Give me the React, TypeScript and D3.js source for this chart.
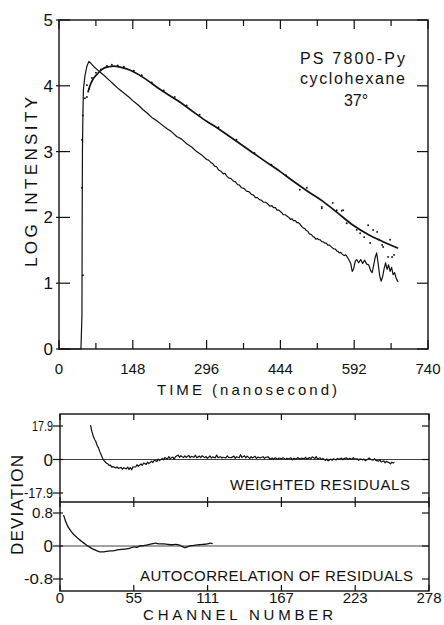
import React from "react";
import * as d3 from "d3";

// ---------- DATA ----------
const timeTicks = [0, 148, 296, 444, 592, 740];
const timeMinorTicks = [74, 222, 370, 518, 666];
const logTicks = [0, 1, 2, 3, 4, 5];
const channelTicks = [0, 55.6, 111.2, 166.8, 222.4, 278];
const channelTickLabels = ["0", "55", "111", "167", "223", "278"];
const weightedTicks = [17.9, 0, -17.9];
const weightedTickLabels = ["17.9", "0", "-17.9"];
const autoTicks = [0.8, 0, -0.8];
const autoTickLabels = ["0.8", "0", "-0.8"];

// lamp / fast decaying profile [time ns, log intensity]
const fastCurve: [number, number][] = [
  [0, 0], [44, 0], [46, 0.5], [46.5, 2.0], [47, 3.0], [48, 3.6], [49, 3.95], [52, 4.15], [56, 4.3],
  [60, 4.37], [64, 4.34], [70, 4.29], [76, 4.25], [82, 4.21], [90, 4.16], [100, 4.09], [110, 4.02],
  [120, 3.95], [130, 3.89], [140, 3.83], [150, 3.76], [160, 3.7], [168, 3.64], [176, 3.59], [186, 3.52],
  [196, 3.47], [206, 3.41], [216, 3.35], [226, 3.3], [236, 3.23], [246, 3.19], [256, 3.12], [266, 3.07],
  [276, 3.0], [286, 2.95], [296, 2.88], [300, 2.87], [304, 2.84], [308, 2.82], [312, 2.78], [316, 2.77],
  [320, 2.72], [325, 2.7], [330, 2.66], [333, 2.67], [336, 2.63], [340, 2.6], [345, 2.59], [350, 2.55],
  [354, 2.54], [358, 2.5], [362, 2.49], [366, 2.45], [371, 2.44], [376, 2.4], [381, 2.39], [386, 2.35],
  [390, 2.34], [394, 2.3], [398, 2.3], [402, 2.27], [406, 2.26], [410, 2.23], [414, 2.23], [418, 2.21],
  [423, 2.17], [427, 2.18], [430, 2.15], [434, 2.15], [437, 2.11], [441, 2.11], [444, 2.09], [447, 2.07],
  [450, 2.04], [454, 2.04], [457, 2.02], [461, 2.0], [464, 1.97], [467, 1.98], [470, 1.95], [474, 1.95],
  [477, 1.92], [480, 1.92], [483, 1.9], [487, 1.86], [490, 1.84], [493, 1.83], [496, 1.8], [499, 1.79],
  [502, 1.75], [506, 1.74], [509, 1.71], [512, 1.7], [515, 1.67], [518, 1.68], [521, 1.66], [524, 1.66],
  [527, 1.63], [530, 1.63], [533, 1.61], [536, 1.61], [539, 1.58], [542, 1.58], [545, 1.56], [548, 1.54],
  [551, 1.52], [554, 1.52], [557, 1.49], [560, 1.48], [562, 1.46], [565, 1.47], [567, 1.45], [570, 1.43],
  [572, 1.42], [575, 1.43], [577, 1.41], [581, 1.36], [585, 1.3], [588, 1.18], [591, 1.22],
  [594, 1.33], [597, 1.36], [601, 1.31], [605, 1.36], [609, 1.3], [613, 1.35], [617, 1.29], [621, 1.28],
  [625, 1.19], [628, 1.16], [631, 1.27], [634, 1.39], [637, 1.46], [640, 1.3], [643, 1.12], [646, 1.03],
  [649, 1.1], [652, 1.22], [655, 1.31], [658, 1.21], [661, 1.28], [664, 1.18], [667, 1.24], [670, 1.13],
  [673, 1.16], [676, 1.08], [680, 1.02],
];

// fitted fluorescence decay [time ns, log intensity]
const fitCurve: [number, number][] = [
  [58, 3.9], [62, 4.0], [68, 4.1], [78, 4.19], [88, 4.26], [100, 4.29], [110, 4.3], [125, 4.28],
  [142, 4.24], [160, 4.17], [176, 4.09], [200, 3.96], [220, 3.86], [243, 3.75], [270, 3.6], [296, 3.46],
  [309, 3.4], [340, 3.24], [376, 3.05], [410, 2.87], [443, 2.7], [470, 2.55], [500, 2.39], [530, 2.24],
  [560, 2.06], [590, 1.88], [620, 1.74], [650, 1.63], [680, 1.53],
];

// measured fluorescence points [time ns, log intensity]
const dataPoints: [number, number][] = [
  [48, 1.12], [46, 2.45], [46, 3.18], [48, 3.55], [52, 3.81], [56, 3.83], [56, 4.01], [60, 3.95],
  [66, 4.12], [74, 4.2], [84, 4.25], [96, 4.3], [106, 4.32], [118, 4.31], [130, 4.29], [150, 4.23],
  [166, 4.16], [186, 4.05], [210, 3.93], [232, 3.83], [256, 3.7], [282, 3.56], [320, 3.37], [356, 3.18],
  [392, 2.98], [426, 2.8], [455, 2.64], [483, 2.42], [497, 2.45], [527, 2.14], [527, 2.16], [549, 2.22],
  [557, 2.11], [567, 2.1], [570, 2.11], [577, 1.91], [597, 1.81], [604, 1.76], [620, 1.88], [624, 1.61],
  [630, 1.81], [638, 1.78], [648, 1.58], [650, 1.55], [660, 1.4], [664, 1.66], [668, 1.4], [672, 1.43],
  [612, 1.7], [642, 1.66],
];

// weighted residuals [channel, deviation]
const weightedResiduals: [number, number][] = [
  [23, 18.4], [24, 15.0], [25, 12.5], [26, 10.8], [27, 9.6], [28, 7.5], [29, 6.2], [30, 4.2], [31, 2.5],
  [32, 0.8], [33, -0.5], [34, -1.2], [35, -2.0], [36, -2.3], [37, -3.2], [38, -3.0], [39, -4.1], [40, -3.8],
  [42, -4.5], [43, -3.9], [44, -4.8], [46, -4.2], [47, -5.2], [48, -4.4], [50, -5.0], [51, -4.1], [52, -5.3],
  [53, -4.3], [54, -5.5], [55, -3.9], [57, -4.0], [58, -2.8], [59, -3.6], [61, -2.4], [62, -3.1], [63, -1.9],
  [65, -2.6], [66, -1.4], [67, -2.2], [69, -0.9], [70, -1.6], [71, -0.4], [73, -1.0], [74, 0.2], [75, -0.6],
  [77, 0.6], [78, -0.2], [79, 1.0], [81, 0.3], [82, 1.6], [83, 0.5], [85, 1.3], [86, 0.2], [87, 1.5],
  [89, 2.4], [90, 1.2], [91, 2.0], [93, 1.0], [94, 1.9], [95, 1.1], [97, 2.2], [98, 1.0], [99, 1.7],
  [101, 1.2], [102, 2.3], [103, 0.9], [105, 1.8], [106, 1.0], [107, 2.0], [109, 1.0], [110, 1.6], [111, 0.6],
  [113, 1.9], [114, 0.8], [115, 1.4], [117, 0.9], [118, 2.4], [119, 1.0], [121, 1.5], [122, 0.8], [123, 1.2],
  [125, 0.9], [126, 2.0], [127, 1.1], [129, 1.0], [131, 1.8], [132, 0.6], [133, 1.5], [135, 0.9], [136, 2.6],
  [137, 1.1], [139, 2.0], [140, 0.9], [141, 1.8], [143, 0.6], [144, 1.5], [145, 0.8], [147, 1.7], [148, 0.6],
  [149, 1.3], [151, 0.9], [153, 1.5], [154, 0.6], [155, 1.2], [157, 1.4], [158, 0.2], [160, 0.8], [161, 0.0],
  [162, 0.9], [164, 0.1], [165, 0.8], [167, 0.4], [168, 1.0], [170, 0.0], [171, 0.7], [172, 0.3], [174, 0.9],
  [175, -0.2], [176, 0.6], [178, 0.2], [179, 1.0], [181, 0.1], [182, 0.7], [184, 0.3], [185, 1.2], [186, 0.2],
  [188, 1.0], [189, 0.4], [190, 1.4], [192, 0.5], [193, 1.6], [194, 0.3], [196, 0.9], [197, 0.0], [198, 0.6],
  [200, -0.5], [201, 0.3], [202, -0.7], [204, 0.2], [205, -0.4], [206, 0.4], [208, -0.2], [209, 0.6], [210, 0.0],
  [212, 0.8], [213, -0.1], [214, 0.5], [216, 0.9], [217, 0.0], [218, 0.6], [220, 0.1], [221, 1.0], [222, 0.2],
  [224, 0.4], [225, -0.4], [226, 0.3], [228, -0.2], [229, 0.2], [230, -0.6], [232, 0.3], [233, 0.8], [234, 0.0],
  [236, -0.3], [237, 0.4], [238, -0.5], [240, -0.9], [241, -0.2], [242, -1.3], [244, -0.7], [245, -1.8],
  [246, -1.0], [248, -1.7], [249, -2.3], [250, -1.4], [251, -1.9], [252, -1.5],
];

// autocorrelation of residuals [channel, value]
const autocorrelation: [number, number][] = [
  [2.5, 0.75], [3, 0.72], [4, 0.62], [5, 0.54], [6, 0.47], [7, 0.42], [8, 0.37], [9, 0.33], [10, 0.29],
  [12, 0.23], [14, 0.17], [16, 0.12], [18, 0.07], [20, 0.02], [22, -0.02], [24, -0.06], [26, -0.09],
  [28, -0.12], [30, -0.14], [32, -0.14], [35, -0.13], [38, -0.12], [41, -0.11], [44, -0.09], [47, -0.08],
  [50, -0.07], [53, -0.05], [56, -0.02], [58, -0.03], [60, 0.0], [63, 0.01], [66, 0.03], [69, 0.05],
  [72, 0.07], [75, 0.05], [78, 0.05], [81, 0.04], [84, 0.03], [87, 0.04], [90, 0.02], [92, -0.01],
  [94, -0.04], [96, -0.02], [99, 0.01], [102, 0.02], [105, 0.03], [108, 0.04], [111, 0.05], [113, 0.07],
  [115, 0.06],
];

const FONT = "'Liberation Sans', 'DejaVu Sans', sans-serif";

export default function App() {
  const W = 444, H = 625;
  const mL = 59, mR = 428, mT = 20, mB = 349;
  const x = d3.scaleLinear().domain([0, 740]).range([mL, mR]);
  const y = d3.scaleLinear().domain([0, 5]).range([mB, mT]);
  const rL = 60, rR = 429, rT = 414, rMid = 502, rB = 591;
  const cx = d3.scaleLinear().domain([0, 278]).range([rL, rR]);
  const wy = d3.scaleLinear().domain([-17.9, 17.9]).range([493, 426]);
  const ay = d3.scaleLinear().domain([-0.8, 0.8]).range([579, 513]);

  const mainLine = d3.line<[number, number]>().x((d) => x(d[0])).y((d) => y(d[1]));
  const fitLine = d3
    .line<[number, number]>()
    .x((d) => x(d[0]))
    .y((d) => y(d[1]))
    .curve(d3.curveMonotoneX);
  const wLine = d3.line<[number, number]>().x((d) => cx(d[0])).y((d) => wy(d[1]));
  const aLine = d3
    .line<[number, number]>()
    .x((d) => cx(d[0]))
    .y((d) => ay(d[1]))
    .curve(d3.curveMonotoneX);

  const stroke = "#111";
  const smallLabelLen = (s: string) => (s === "0" ? undefined : s.startsWith("-") ? 29 : 21);

  return (
    <svg
      width={W}
      height={H}
      viewBox={`0 0 ${W} ${H}`}
      style={{ position: "absolute", left: 0, top: 0, background: "#fff" }}
      fontFamily={FONT}
    >
      <rect x={0} y={0} width={W} height={H} fill="#fff" />

      {/* ===== MAIN PANEL ===== */}
      <rect x={mL} y={mT} width={mR - mL} height={mB - mT} fill="none" stroke={stroke} strokeWidth={1.4} />
      {timeTicks.map((t) => (
        <g key={"tx" + t}>
          <line x1={x(t)} x2={x(t)} y1={mB} y2={mB - 9} stroke={stroke} strokeWidth={1.2} />
          <line x1={x(t)} x2={x(t)} y1={mT} y2={mT + 9} stroke={stroke} strokeWidth={1.2} />
          <text x={x(t)} y={374} textAnchor="middle" fontSize={15} fill={stroke}>
            {t}
          </text>
        </g>
      ))}
      {timeMinorTicks.map((t) => (
        <g key={"tm" + t}>
          <line x1={x(t)} x2={x(t)} y1={mB} y2={mB - 6} stroke={stroke} strokeWidth={1.2} />
          <line x1={x(t)} x2={x(t)} y1={mT} y2={mT + 6} stroke={stroke} strokeWidth={1.2} />
        </g>
      ))}
      {logTicks.map((v) => (
        <g key={"ty" + v}>
          <line x1={mL - 3} x2={mL + 11} y1={y(v)} y2={y(v)} stroke={stroke} strokeWidth={1.2} />
          <line x1={mR} x2={mR - 11} y1={y(v)} y2={y(v)} stroke={stroke} strokeWidth={1.2} />
          <text x={53} y={y(v) + 6} textAnchor="end" fontSize={17} fill={stroke}>
            {v}
          </text>
        </g>
      ))}
      <text x={247} y={395} textAnchor="middle" fontSize={15} textLength={180} lengthAdjust="spacing" fill={stroke}>
        TIME (nanosecond)
      </text>
      <text
        transform={`translate(37,182) rotate(-90)`}
        textAnchor="middle"
        fontSize={17}
        textLength={170}
        lengthAdjust="spacing"
        fill={stroke}
      >
        LOG INTENSITY
      </text>
      <text x={405} y={64} textAnchor="end" fontSize={16} textLength={105} lengthAdjust="spacing" fill={stroke}>
        PS 7800-Py
      </text>
      <text x={405} y={84} textAnchor="end" fontSize={16} textLength={105} lengthAdjust="spacing" fill={stroke}>
        cyclohexane
      </text>
      <text x={356} y={106} textAnchor="middle" fontSize={16} fill={stroke}>
        37°
      </text>

      <path d={mainLine(fastCurve) || ""} fill="none" stroke={stroke} strokeWidth={1.2} strokeLinejoin="round" />
      <path d={fitLine(fitCurve) || ""} fill="none" stroke={stroke} strokeWidth={1.7} />
      {dataPoints.map((d, i) => (
        <circle key={"dp" + i} cx={x(d[0])} cy={y(d[1])} r={0.95} fill={stroke} />
      ))}

      {/* ===== RESIDUAL PANELS ===== */}
      <rect x={rL} y={rT} width={rR - rL} height={rB - rT} fill="none" stroke={stroke} strokeWidth={1.4} />
      <line x1={rL} x2={rR} y1={rMid} y2={rMid} stroke={stroke} strokeWidth={1.4} />
      <line x1={rL} x2={rR} y1={wy(0)} y2={wy(0)} stroke={stroke} strokeWidth={0.8} />
      <line x1={rL} x2={rR} y1={ay(0)} y2={ay(0)} stroke={stroke} strokeWidth={0.8} />
      {channelTicks.map((c, i) => (
        <g key={"ct" + i}>
          <line x1={cx(c)} x2={cx(c)} y1={rT} y2={rT + 6} stroke={stroke} strokeWidth={1.2} />
          <line x1={cx(c)} x2={cx(c)} y1={rMid - 5} y2={rMid + 5} stroke={stroke} strokeWidth={1.2} />
          <line x1={cx(c)} x2={cx(c)} y1={rB} y2={rB - 6} stroke={stroke} strokeWidth={1.2} />
          <text x={cx(c)} y={603} textAnchor="middle" fontSize={15} fill={stroke}>
            {channelTickLabels[i]}
          </text>
        </g>
      ))}
      {weightedTicks.map((v, i) => (
        <g key={"wt" + i}>
          <line x1={rL - 7} x2={rL + 3} y1={wy(v)} y2={wy(v)} stroke={stroke} strokeWidth={1.2} />
          <line x1={rR} x2={rR - 7} y1={wy(v)} y2={wy(v)} stroke={stroke} strokeWidth={1.2} />
          <text
            x={53}
            y={wy(v) + (v === 0 ? 6 : 5)}
            textAnchor="end"
            fontSize={v === 0 ? 17 : 15}
            textLength={smallLabelLen(weightedTickLabels[i])}
            lengthAdjust="spacingAndGlyphs"
            fill={stroke}
          >
            {weightedTickLabels[i]}
          </text>
        </g>
      ))}
      {autoTicks.map((v, i) => (
        <g key={"at" + i}>
          <line x1={rL - 7} x2={rL + 3} y1={ay(v)} y2={ay(v)} stroke={stroke} strokeWidth={1.2} />
          <line x1={rR} x2={rR - 7} y1={ay(v)} y2={ay(v)} stroke={stroke} strokeWidth={1.2} />
          <text
            x={53}
            y={ay(v) + (v === 0 ? 6 : 5)}
            textAnchor="end"
            fontSize={v === 0 ? 17 : 15}
            textLength={smallLabelLen(autoTickLabels[i])}
            lengthAdjust="spacingAndGlyphs"
            fill={stroke}
          >
            {autoTickLabels[i]}
          </text>
        </g>
      ))}
      <path d={wLine(weightedResiduals) || ""} fill="none" stroke={stroke} strokeWidth={1.2} strokeLinejoin="round" />
      <path d={aLine(autocorrelation) || ""} fill="none" stroke={stroke} strokeWidth={1.3} />

      <text x={410} y={490} textAnchor="end" fontSize={15} textLength={180} lengthAdjust="spacing" fill={stroke}>
        WEIGHTED RESIDUALS
      </text>
      <text x={413} y={581} textAnchor="end" fontSize={15} textLength={273} lengthAdjust="spacing" fill={stroke}>
        AUTOCORRELATION OF RESIDUALS
      </text>
      <text x={238} y={620} textAnchor="middle" fontSize={15} textLength={190} lengthAdjust="spacing" fill={stroke}>
        CHANNEL NUMBER
      </text>
      <text
        transform={`translate(23,505) rotate(-90)`}
        textAnchor="middle"
        fontSize={17}
        textLength={100}
        lengthAdjust="spacing"
        fill={stroke}
      >
        DEVIATION
      </text>
    </svg>
  );
}
